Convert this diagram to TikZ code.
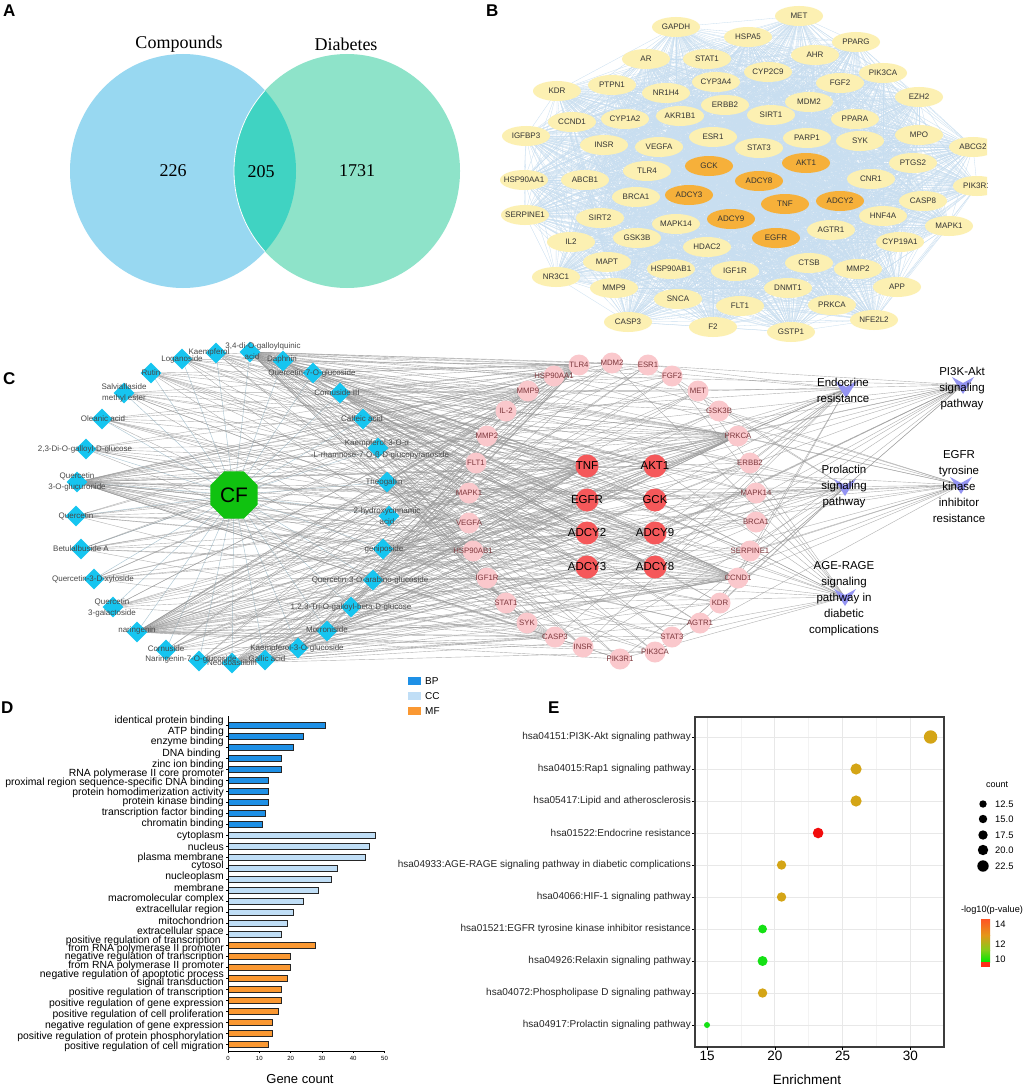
\documentclass[tikz,border=0pt]{standalone}
\usepackage{fontspec}
\setmainfont{Liberation Sans}
\newfontfamily\timesf{Liberation Serif}
\usetikzlibrary{shapes.geometric}
\pgfdeclarelayer{edges}
\pgfsetlayers{edges,main}
\definecolor{vennL}{RGB}{152,216,241}
\definecolor{vennR}{RGB}{142,227,201}
\definecolor{vennM}{RGB}{64,211,194}
\definecolor{bEdge}{RGB}{200,222,240}
\definecolor{bYel}{RGB}{252,240,178}
\definecolor{bOra}{RGB}{246,176,58}
\definecolor{cyanD}{RGB}{22,197,240}
\definecolor{cfGreen}{RGB}{16,194,16}
\definecolor{tPink}{RGB}{250,200,204}
\definecolor{tRed}{RGB}{245,88,90}
\definecolor{pPurp}{RGB}{148,148,242}
\definecolor{tTxt}{RGB}{125,55,60}
\definecolor{cEdge}{RGB}{150,150,150}
\definecolor{cfEdge}{RGB}{175,200,212}
\definecolor{barBP}{RGB}{30,144,230}
\definecolor{barCC}{RGB}{192,222,246}
\definecolor{barMF}{RGB}{250,152,50}
\definecolor{dGold}{RGB}{212,165,22}
\definecolor{dGreen}{RGB}{20,225,20}
\definecolor{dRed}{RGB}{242,12,12}
\definecolor{gridc}{RGB}{232,232,232}
\definecolor{gridm}{RGB}{243,243,243}
\definecolor{frameC}{RGB}{60,60,60}
\definecolor{cbA}{RGB}{255,85,35}
\definecolor{cbB}{RGB}{228,150,25}
\definecolor{cbC}{RGB}{130,205,25}
\definecolor{cbD}{RGB}{0,230,0}
\definecolor{cbE}{RGB}{255,45,25}
\tikzset{
  panel/.style={font=\fontsize{17}{17}\selectfont\bfseries, anchor=base west, inner sep=0pt},
  venn/.style={font=\timesf\fontsize{18}{18}\selectfont, inner sep=0pt},
  bnode/.style={ellipse, fill=bYel, minimum width=48pt, minimum height=20pt, inner sep=0pt},
  bcore/.style={bnode, fill=bOra},
  btext/.style={font=\fontsize{8}{8}\selectfont, text=black!80, inner sep=0pt},
  comp/.style={diamond, fill=cyanD, minimum size=21pt, inner sep=0pt},
  clab/.style={font=\fontsize{8}{11}\selectfont, text=black!72, align=center, inner sep=0pt},
  cfnode/.style={regular polygon, regular polygon sides=8, fill=cfGreen, minimum size=51pt, inner sep=0pt, font=\fontsize{21}{21}\selectfont},
  tnode/.style={circle, fill=tPink, minimum size=21pt, inner sep=0pt},
  ttext/.style={font=\fontsize{7.8}{8}\selectfont, text=tTxt, inner sep=0pt},
  tcore/.style={circle, fill=tRed, minimum size=23pt, inner sep=0pt},
  tctext/.style={font=\fontsize{11.5}{12}\selectfont, text=black, inner sep=0pt},
  pwnode/.style={circle, minimum size=4pt, inner sep=0pt},
  pwlab/.style={font=\fontsize{11.5}{16}\selectfont, align=center, inner sep=0pt},
  bedge/.style={draw=bEdge, line width=0.3pt},
  cedge/.style={draw=cEdge, line width=0.4pt, opacity=0.75},
  cfedge/.style={draw=cfEdge, line width=0.45pt},
  dlab/.style={font=\fontsize{10.4}{10.4}\selectfont, anchor=east, inner sep=0pt},
  elab/.style={font=\fontsize{10}{10}\selectfont, anchor=east, inner sep=0pt, text=black!85},
  bar/.style={draw=black!85, line width=0.6pt},
  smalltxt/.style={font=\fontsize{#1}{#1}\selectfont, inner sep=0pt},
}
\newcommand{\pwV}[1]{\fill[pPurp] ([shift={(-11,-8)}]#1.center) -- ([shift={(0,-2)}]#1.center) -- ([shift={(11,-8)}]#1.center) -- ([shift={(0,9)}]#1.center) -- cycle;}
\def\blist{MET,GAPDH,HSPA5,PPARG,AR,STAT1,AHR,CYP2C9,PIK3CA,KDR,PTPN1,CYP3A4,FGF2,NR1H4,EZH2,ERBB2,MDM2,CCND1,CYP1A2,AKR1B1,SIRT1,PPARA,IGFBP3,MPO,ESR1,PARP1,INSR,VEGFA,STAT3,SYK,ABCG2,TLR4,CNR1,HSP90AA1,ABCB1,PTGS2,PIK3R1,BRCA1,CASP8,SERPINE1,SIRT2,HNF4A,MAPK14,MAPK1,AGTR1,GSK3B,HDAC2,IL2,CYP19A1,MAPT,CTSB,HSP90AB1,IGF1R,MMP2,NR3C1,MMP9,DNMT1,APP,SNCA,FLT1,PRKCA,CASP3,F2,NFE2L2,GSTP1,GCK,AKT1,ADCY8,ADCY3,TNF,ADCY2,ADCY9,EGFR}
\def\tlist{TLR4,MDM2,ESR1,HSP90AA1,FGF2,MMP9,MET,IL2,GSK3B,MMP2,PRKCA,FLT1,ERBB2,MAPK1,MAPK14,VEGFA,BRCA1,HSP90AB1,SERPINE1,IGF1R,CCND1,STAT1,KDR,SYK,AGTR1,CASP3,STAT3,INSR,PIK3CA,PIK3R1,TNF,AKT1,EGFR,GCK,ADCY2,ADCY9,ADCY3,ADCY8}
\begin{document}
\begin{tikzpicture}[x=1pt,y=-1pt]
\useasboundingbox (0,0) rectangle (1024,1089);
\begin{pgfonlayer}{edges}
\fill[white] (0,0) rectangle (1024,1089);
\end{pgfonlayer}

% ---------------- Panel A ----------------
\node[panel] (labA) at (3,17) {A};
\fill[vennL] (183,171) ellipse[x radius=113pt,y radius=117pt];
\fill[vennR] (347,171) ellipse[x radius=113pt,y radius=117pt];
\begin{scope}
\clip (183,171) ellipse[x radius=113pt,y radius=117pt];
\fill[vennM] (347,171) ellipse[x radius=113pt,y radius=117pt];
\draw[white,line width=0.8pt] (347,171) ellipse[x radius=113pt,y radius=117pt];
\end{scope}
\node[venn] (vComp) at (179,44) {Compounds};
\node[venn] (vDiab) at (346,44) {Diabetes};
\node[venn] (v226) at (173,171) {226};
\node[venn] (v205) at (261,172) {205};
\node[venn] (v1731) at (357,171) {1731};

% ---------------- Panel B ----------------
\node[panel] (labB) at (486,17) {B};
\foreach \n/\x/\y in {MET/799/16,GAPDH/676/27,HSPA5/748/37,PPARG/856/42,AR/646/59,STAT1/707/59,AHR/815/55,CYP2C9/768/72,PIK3CA/883/73,KDR/557/91,PTPN1/612/85,CYP3A4/716/82,FGF2/840/83,NR1H4/666/93,EZH2/919/97,ERBB2/725/105,MDM2/809/102,CCND1/572/122,CYP1A2/625/119,AKR1B1/680/116,SIRT1/771/115,PPARA/855/119,IGFBP3/526/136,MPO/919/135,ESR1/713/137,PARP1/807/138,INSR/604/145,VEGFA/659/147,STAT3/759/148,SYK/860/141,TLR4/647/171,CNR1/871/179,HSP90AA1/524/180,ABCB1/585/180,PTGS2/913/163,BRCA1/636/197,CASP8/923/201,SERPINE1/525/215,SIRT2/600/218,HNF4A/883/216,MAPK14/676/224,MAPK1/949/226,AGTR1/831/230,GSK3B/637/238,HDAC2/707/247,IL2/571/242,CYP19A1/900/242,MAPT/607/262,CTSB/809/263,HSP90AB1/671/269,IGF1R/735/271,MMP2/858/269,NR3C1/556/277,MMP9/614/288,DNMT1/788/288,APP/897/287,SNCA/678/299,FLT1/740/306,PRKCA/832/305,CASP3/628/322,F2/713/327,NFE2L2/874/320,GSTP1/791/332}{
  \node[bnode] (b\n) at (\x,\y) {};
  \node[btext] (bl\n) at (b\n) {\n};
}
\begin{scope}
\clip (480,0) rectangle (987,345);
\foreach \n/\x/\y in {ABCG2/973/147,PIK3R1/977/186}{
  \node[bnode] (b\n) at (\x,\y) {};
  \node[btext] (bl\n) at (b\n) {\n};
}
\end{scope}
\foreach \n/\x/\y in {GCK/709/166,AKT1/806/163,ADCY8/759/181,ADCY3/689/195,TNF/785/204,ADCY2/840/201,ADCY9/731/219,EGFR/776/238}{
  \node[bcore] (b\n) at (\x,\y) {};
  \node[btext] (bl\n) at (b\n) {\n};
}
\begin{pgfonlayer}{edges}
\foreach \a [count=\i] in \blist {
  \foreach \b [count=\j] in \blist {
    \ifnum\j>\i\relax \draw[bedge] (b\a.center) -- (b\b.center);\fi
  }
}
\end{pgfonlayer}

% ---------------- Panel C ----------------
\node[panel] (labC) at (3,384) {C};
\node[cfnode] (cf) at (234,495) {CF};
\foreach \i/\x/\y in {1/182/359,2/216/353,3/250/352,4/283/361,5/151/373,6/313/373,7/124/393,8/340/393,9/102/419,10/363/419,11/86/449,12/378/448,13/77/482,14/387/482,15/76/516,16/389/516,17/81/549,18/383/549,19/94/579,20/373/580,21/113/607,22/351/607,23/137/632,24/327/631,25/166/650,26/298/648,27/199/661,28/232/663,29/265/660}{
  \node[comp] (k\i) at (\x,\y) {};
}
\node[clab] (lk1) at (182,359) {Loganoside};
\node[clab] (lk2) at (209,352) {Kaempferol};
\node[clab] (lk3a) at (263,346) {3,4-di-O-galloylquinic};
\node[clab] (lk3b) at (252,357) {acid};
\node[clab] (lk4) at (282,359) {Daphnin};
\node[clab] (lk5) at (151,373) {Rutin};
\node[clab] (lk6) at (312,373) {Quercetin-7-O-glucoside};
\node[clab] (lk7) at (124,393) {Salviaflaside\\methyl ester};
\node[clab] (lk8) at (337,393) {Cornuside III};
\node[clab] (lk9) at (103,419) {Oleanic acid};
\node[clab] (lk10) at (362,419) {Caffeic acid};
\node[clab] (lk11) at (85,449) {2,3-Di-O-galloyl-D-glucose};
\node[clab] (lk12a) at (377,443) {Kaempferol-3-O-α};
\node[clab] (lk12b) at (380,455) {-L-rhamnose-7-O-β-D-glucopyranoside};
\node[clab] (lk13) at (77,482) {Quercetin\\3-O-glucuronide};
\node[clab] (lk14) at (384,482) {Theogallin};
\node[clab] (lk15) at (76,516) {Quercetin};
\node[clab] (lk16) at (387,516) {2-hydroxycinnamic\\acid};
\node[clab] (lk17) at (81,549) {Betulalbuside A};
\node[clab] (lk18) at (384,549) {geniposide};
\node[clab] (lk19) at (93,579) {Quercetin-3-D-xyloside};
\node[clab] (lk20) at (370,580) {Quercetin-3-O-arabino-glucoside};
\node[clab] (lk21) at (112,608) {Quercetin\\3-galactoside};
\node[clab] (lk22) at (351,607) {1,2,3-Tri-O-galloyl-beta-D-glucose};
\node[clab] (lk23) at (137,630) {naringenin};
\node[clab] (lk24) at (327,630) {Morroniside};
\node[clab] (lk25) at (166,649) {Cornuside};
\node[clab] (lk26) at (297,648) {Kaempferol-3-O-glucoside};
\node[clab] (lk27) at (191,659) {Naringenin-7-O-glucoside};
\node[clab] (lk28) at (232,663) {Neoisoastilbin};
\node[clab] (lk29) at (267,659) {Gallic acid};

\foreach \n/\x/\y/\t in {TLR4/579/365/TLR4,MDM2/612/363/MDM2,ESR1/648/365/ESR1,HSP90AA1/554/376/HSP90AA1,FGF2/672/376/FGF2,MMP9/528/391/MMP9,MET/698/391/MET,IL2/506/411/IL-2,GSK3B/719/411/GSK3B,MMP2/487/436/MMP2,PRKCA/738/436/PRKCA,FLT1/476/463/FLT1,ERBB2/750/463/ERBB2,MAPK1/469/493/MAPK1,MAPK14/756/493/MAPK14,VEGFA/469/523/VEGFA,BRCA1/756/522/BRCA1,HSP90AB1/473/551/HSP90AB1,SERPINE1/750/551/SERPINE1,IGF1R/487/578/IGF1R,CCND1/738/578/CCND1,STAT1/506/603/STAT1,KDR/720/603/KDR,SYK/527/623/SYK,AGTR1/700/623/AGTR1,CASP3/555/637/CASP3,STAT3/672/637/STAT3,INSR/583/647/INSR,PIK3CA/655/652/PIK3CA,PIK3R1/620/659/PIK3R1}{
  \node[tnode] (t\n) at (\x,\y) {};
  \node[ttext] (tl\n) at (t\n) {\t};
}
\foreach \n/\x/\y in {TNF/587/466,AKT1/655/466,EGFR/587/500,GCK/655/500,ADCY2/587/533,ADCY9/655/533,ADCY3/587/567,ADCY8/655/567}{
  \node[tcore] (t\n) at (\x,\y) {};
  \node[tctext] (tl\n) at (t\n) {\n};
}
\node[pwnode] (pEndo) at (846,389) {};
\node[pwnode] (pPI3K) at (963,385) {};
\node[pwnode] (pProl) at (845,487) {};
\node[pwnode] (pEGFR) at (961,485) {};
\node[pwnode] (pAGE) at (845,597) {};
\pwV{pEndo}\pwV{pPI3K}\pwV{pProl}\pwV{pEGFR}\pwV{pAGE}
\node[pwlab] (lpEndo) at (843,390) {Endocrine\\resistance};
\node[pwlab] (lpPI3K) at (962,389) {PI3K-Akt\\signaling\\pathway};
\node[pwlab] (lpProl) at (844,487) {Prolactin\\signaling\\pathway};
\node[pwlab] (lpEGFR) at (959,487) {EGFR\\tyrosine\\kinase\\inhibitor\\resistance};
\node[pwlab] (lpAGE) at (844,599) {AGE-RAGE\\signaling\\pathway in\\diabetic\\complications};

\begin{pgfonlayer}{edges}
\foreach \i in {1,...,29} { \draw[cfedge] (cf.center) -- (k\i.center); }
\foreach \tn [count=\j] in \tlist {
  \foreach \i in {1,...,29} {
    \pgfmathtruncatemacro\r{mod(\i*7+\j*11+\i*\j*3,10)}
    \ifnum\j>30\relax \pgfmathtruncatemacro\r{\r/2}\fi
    \ifnum\r<2\relax \draw[cedge] (k\i.center) -- (t\tn.center);\fi
  }
  \foreach \pn [count=\p] in {pEndo,pPI3K,pProl,pEGFR,pAGE} {
    \pgfmathtruncatemacro\s{mod(\j*3+\p*7,5)}
    \ifnum\j>30\relax \pgfmathtruncatemacro\s{\s/2}\fi
    \ifnum\s<2\relax \draw[cedge] (t\tn.center) -- (\pn.center);\fi
  }
}
\end{pgfonlayer}

% ---------------- Panel D ----------------
\node[panel] (labD) at (1,713) {D};
\foreach \v/\c [count=\k] in {31/barBP,24/barBP,21/barBP,17/barBP,17/barBP,13/barBP,13/barBP,13/barBP,12/barBP,11/barBP,47/barCC,45/barCC,44/barCC,35/barCC,33/barCC,29/barCC,24/barCC,21/barCC,19/barCC,17/barCC,28/barMF,20/barMF,20/barMF,19/barMF,17/barMF,17/barMF,16/barMF,14/barMF,14/barMF,13/barMF}{
  \draw[bar, fill=\c] (228,{722+11*(\k-1)}) rectangle ({228+3.13*\v},{728+11*(\k-1)});
  \draw[line width=0.5pt] (226,{725+11*(\k-1)}) -- (228,{725+11*(\k-1)});
}
\draw[line width=0.7pt] (228,716) -- (228,1051);
\draw[line width=0.6pt] (228,1051) -- (384.5,1051);
\foreach \v in {0,10,20,30,40,50}{
  \draw[line width=0.5pt] ({228+3.13*\v},1051) -- ({228+3.13*\v},1053);
  \node[smalltxt=6] (dt\v) at ({228+3.13*\v},1058) {\v};
}
\foreach \y/\t [count=\k] in {721/identical protein binding,732/ATP binding,742/enzyme binding,765/zinc ion binding,774/RNA polymerase II core promoter,783/proximal region sequence-specific DNA binding,793/protein homodimerization activity,802/protein kinase binding,813/transcription factor binding,824/chromatin binding,836/cytoplasm,847/nucleus,858/plasma membrane,866/cytosol,877/nucleoplasm,888/membrane,899/macromolecular complex,910/extracellular region,921/mitochondrion,932/extracellular space,949/from RNA polymerase II promoter,957/negative regulation of transcription,966/from RNA polymerase II promoter,975/negative regulation of apoptotic process,983/signal transduction,993/positive regulation of transcription,1004/positive regulation of gene expression,1015/positive regulation of cell proliferation,1026/negative regulation of gene expression,1037/positive regulation of protein phosphorylation,1047/positive regulation of cell migration}{
  \node[dlab] (dl\k) at (224,\y) {\t};
}
\node[dlab] (dlDNA) at (221,754) {DNA binding};
\node[dlab] (dlPRT) at (221,941) {positive regulation of transcription};
\fill[barBP] (408,677) rectangle (421,685);
\fill[barCC] (408,692) rectangle (421,700);
\fill[barMF] (408,707) rectangle (421,715);
\node[smalltxt=10, anchor=west] (lgBP) at (425,681) {BP};
\node[smalltxt=10, anchor=west] (lgCC) at (425,696) {CC};
\node[smalltxt=10, anchor=west] (lgMF) at (425,711) {MF};
\node[smalltxt=13] (dxt) at (300,1079) {Gene count};

% ---------------- Panel E ----------------
\node[panel] (labE) at (548,713) {E};
\foreach \v in {17.5,22.5,27.5}{ \draw[gridm, line width=0.6pt] ({707+(\v-15)*13.55},717) -- ({707+(\v-15)*13.55},1047); }
\foreach \v in {15,20,25,30}{ \draw[gridc, line width=0.8pt] ({707+(\v-15)*13.55},717) -- ({707+(\v-15)*13.55},1047); }
\foreach \y in {737,769,801,833,865,897,929,961,993,1025}{ \draw[gridc, line width=0.8pt] (695,\y) -- (944,\y); \draw[line width=0.5pt] (692,\y) -- (695,\y); }
\draw[frameC, line width=1.2pt] (695,717) rectangle (944,1047);
\foreach \v in {15,20,25,30}{
  \draw[line width=0.5pt] ({707+(\v-15)*13.55},1047) -- ({707+(\v-15)*13.55},1050);
  \node[smalltxt=13.5] (et\v) at ({707+(\v-15)*13.55},1056) {\v};
}
\node[smalltxt=13.5] (ext) at (807,1080) {Enrichment};
\foreach \v/\y/\r/\c [count=\k] in {31.5/737/6.7/dGold,26/769/5.6/dGold,26/801/5.6/dGold,23.2/833/5.3/dRed,20.5/865/4.7/dGold,20.5/897/4.7/dGold,19.1/929/4.4/dGreen,19.1/961/5/dGreen,19.1/993/4.7/dGold,15/1025/3/dGreen}{
  \node[circle, fill=\c, minimum size={2*\r}, inner sep=0pt] (ep\k) at ({707+(\v-15)*13.55},\y) {};
}
\foreach \y/\t [count=\k] in {737/hsa04151:PI3K-Akt signaling pathway,769/hsa04015:Rap1 signaling pathway,801/hsa05417:Lipid and atherosclerosis,833/hsa01522:Endocrine resistance,865/hsa04933:AGE-RAGE signaling pathway in diabetic complications,897/hsa04066:HIF-1 signaling pathway,929/hsa01521:EGFR tyrosine kinase inhibitor resistance,961/hsa04926:Relaxin signaling pathway,993/hsa04072:Phospholipase D signaling pathway,1025/hsa04917:Prolactin signaling pathway}{
  \node[elab] (el\k) at (691,\y) {\t};
}
% legend
\node[smalltxt=9] (lgcount) at (997,785) {count};
\foreach \y/\r/\t [count=\k] in {804/3.7/12.5,819/4.2/15.0,835/4.7/17.5,850/5.2/20.0,866/5.7/22.5}{
  \node[circle, fill=black, minimum size={2*\r}, inner sep=0pt] (lgd\k) at (983,\y) {};
  \node[smalltxt=9.4, anchor=west] (lgt\k) at (995,\y) {\t};
}
\node[smalltxt=9.2] (lgp) at (992,910) {-log10(p-value)};
\shade[top color=cbA, bottom color=cbB] (981,919) rectangle (990,935);
\shade[top color=cbB, bottom color=cbC] (981,935) rectangle (990,950);
\shade[top color=cbC, bottom color=cbD] (981,950) rectangle (990,962);
\fill[cbE] (981,962) rectangle (990,967);
\node[smalltxt=9.4, anchor=west] (lc14) at (995,924) {14};
\node[smalltxt=9.4, anchor=west] (lc12) at (995,944) {12};
\node[smalltxt=9.4, anchor=west] (lc10) at (995,959) {10};
\end{tikzpicture}
\end{document}
